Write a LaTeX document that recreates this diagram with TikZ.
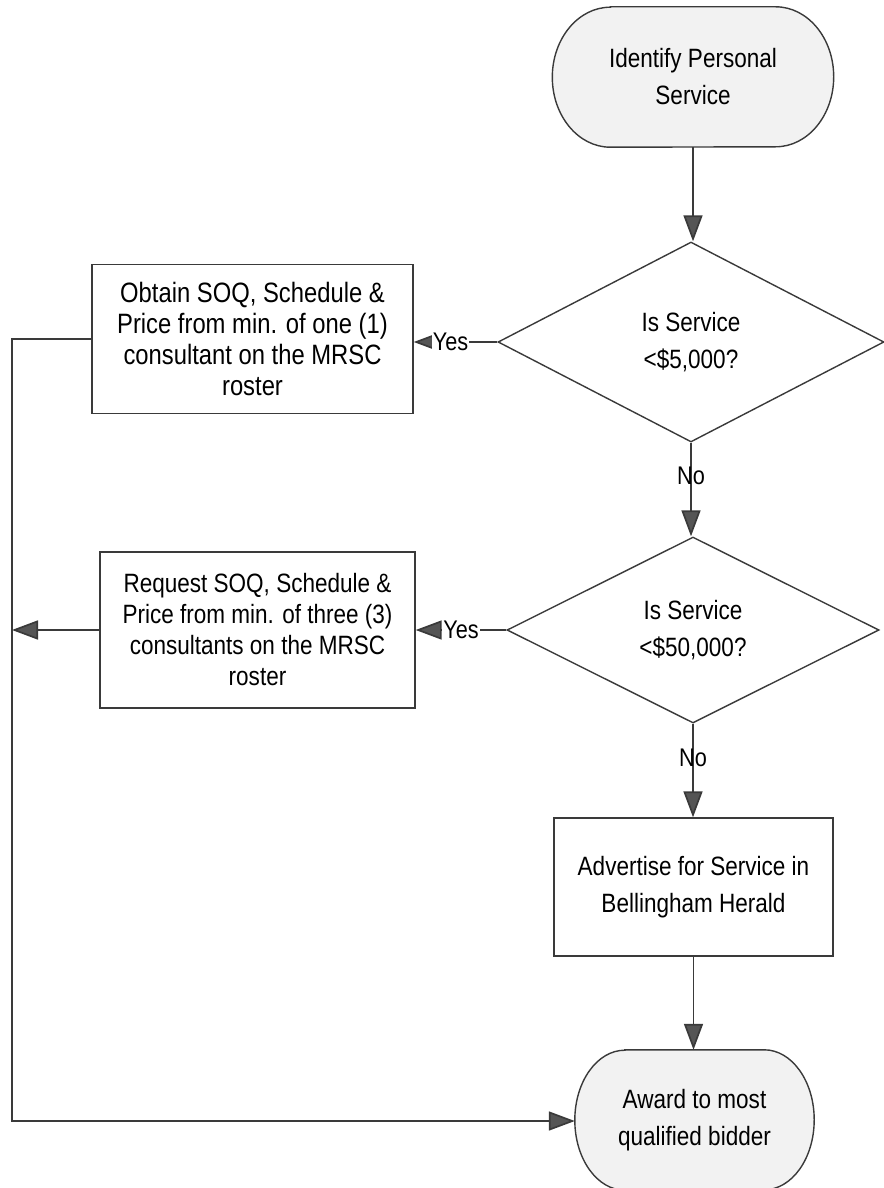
\documentclass[tikz,border=0pt]{standalone}
\usepackage{fontspec}
\setmainfont{Liberation Sans}[FakeStretch=0.85]
\usetikzlibrary{shapes.geometric,arrows.meta,calc,backgrounds}
\definecolor{inkline}{HTML}{3A3A3A}
\definecolor{tipfill}{HTML}{555555}
\definecolor{termfill}{HTML}{F2F2F2}

\begin{document}
\begin{tikzpicture}[x=1pt,y=-1pt,
  txt/.style={font=\fontsize{26.5}{37}\selectfont, text=black, align=center, inner sep=0pt},
  boxtxt/.style={font=\fontsize{28}{31}\selectfont, text=black, align=center, inner sep=0pt},
  lbl/.style={font=\fontsize{25.5}{30}\selectfont, text=black, inner sep=1pt},
  procbox/.style={draw=inkline, line width=1.4pt, rectangle, fill=white},
  decision/.style={draw=inkline, line width=1.4pt, diamond, fill=white, inner sep=0pt},
  termarea/.style={rectangle, inner sep=0pt},
  termshape/.style={draw=inkline, line width=1.4pt, fill=termfill},
  wire/.style={draw=inkline, line width=1.7pt},
  flow/.style={wire, -{Triangle[width=19pt,length=26pt,fill=tipfill]}}
]
% page extent
\path[use as bounding box] (0,0) rectangle (883,1188);

% nodes
\node[termarea, txt, minimum width=281pt, minimum height=140pt] (start) at (693,77) {Identify Personal\\Service};
\node[decision, txt, minimum width=386pt, minimum height=200pt] (d1) at (691,342) {Is Service\\<\$5,000?};
\node[procbox, boxtxt, minimum width=321pt, minimum height=149pt] (box1) at (252.5,339) {Obtain SOQ, Schedule \&\\Price from min. of one (1)\\consultant on the MRSC\\roster};
\node[decision, txt, minimum width=372pt, minimum height=186pt] (d2) at (693,630) {Is Service\\<\$50,000?};
\node[procbox, boxtxt, font=\fontsize{26.5}{31}\selectfont, minimum width=315pt, minimum height=156pt] (box2) at (257.5,630) {Request SOQ, Schedule \&\\Price from min. of three (3)\\consultants on the MRSC\\roster};
\node[procbox, txt, minimum width=279pt, minimum height=138pt] (box3) at (693.5,887) {Advertise for Service in\\Bellingham Herald};
\node[termarea, txt, minimum width=239pt, minimum height=140pt] (award) at (694.5,1120) {Award to most\\qualified bidder};

% rounded terminal outlines behind their texts
\begin{scope}[on background layer]
  \draw[termshape] ($(start.north west)+(58,0)$) -- ($(start.north east)+(-58,0)$)
    arc[start angle=-90,end angle=90,x radius=58,y radius=70]
    -- ($(start.south west)+(58,0)$)
    arc[start angle=90,end angle=270,x radius=58,y radius=70] -- cycle;
  \draw[termshape] ($(award.north west)+(50,0)$) -- ($(award.north east)+(-50,0)$)
    arc[start angle=-90,end angle=90,x radius=50,y radius=70]
    -- ($(award.south west)+(50,0)$)
    arc[start angle=90,end angle=270,x radius=50,y radius=70] -- cycle;
\end{scope}

% left return rail
\coordinate (railtop) at (12,339);
\coordinate (railbot) at (12,1121);

% connectors
\draw[flow] (start.south) -- (start.south |- d1.north);
\draw[flow] (d1.west) -- node[lbl, pos=0.56, fill=white] {Yes} (d1.west -| box1.east);
\draw[flow] (d1.south) -- node[lbl, pos=0.35] {No} (d1.south |- d2.north);
\draw[flow] (d2.west) -- node[lbl, pos=0.5, fill=white] {Yes} (d2.west -| box2.east);
\draw[flow] (d2.south) -- node[lbl, pos=0.37] {No} (d2.south |- box3.north);
\draw[flow] (box3.south) -- (box3.south |- award.north);
\draw[flow] (box1.west) -- (railtop) -- (railbot) -- (railbot -| award.west);
\draw[flow] (box2.west) -- (box2.west -| railtop);
\end{tikzpicture}
\end{document}
